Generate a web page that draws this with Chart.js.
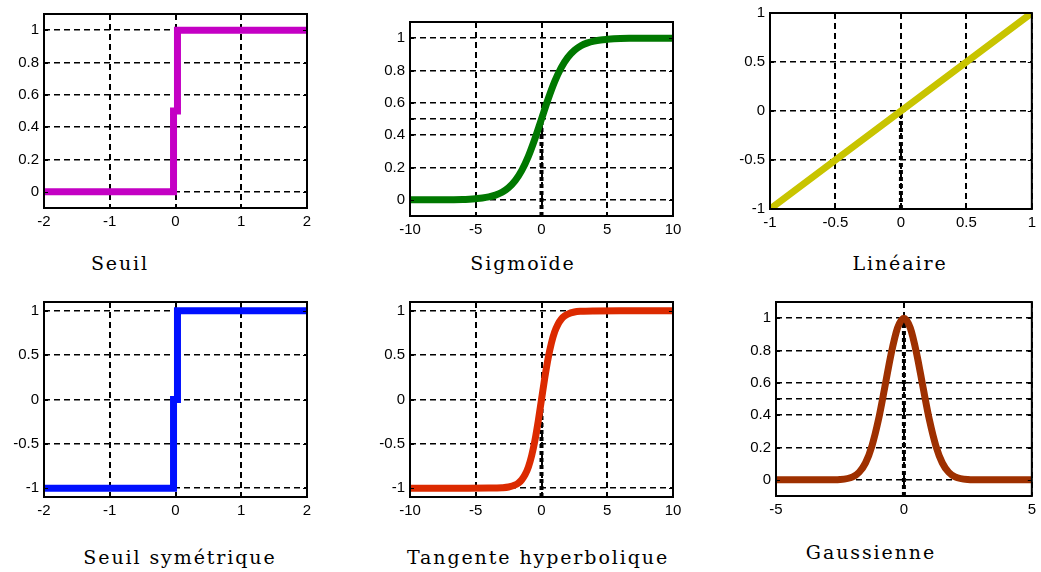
<!DOCTYPE html>
<html>
<head>
<meta charset="utf-8">
<script src="https://cdn.jsdelivr.net/npm/chart.js@4.4.1/dist/chart.umd.min.js"></script>
<style>
  html, body { margin: 0; padding: 0; background: #fff; overflow: hidden; }
  body { width: 1041px; height: 572px; position: relative; }
  canvas { position: absolute; }
  .titre {
    position: absolute; width: 320px; text-align: center;
    font-family: "DejaVu Serif", "Liberation Serif", serif;
    font-size: 19px; letter-spacing: 1.9px; color: #000; line-height: 24px;
  }
</style>
</head>
<body>
<script>
// données
const seuilX = [-2, -0.03, -0.03, 0.03, 0.03, 2];
const seuilY = [0, 0, 0.5, 0.5, 1, 1];

const sigX = [-10, -9, -8, -7, -6, -5.5, -5, -4.5, -4, -3.5, -3, -2.5, -2, -1.5, -1, -0.5, 0,
              0.5, 1, 1.5, 2, 2.5, 3, 3.5, 4, 4.5, 5, 5.5, 6, 7, 8, 9, 10];
const sigY = [0, 0, 0, 0.001, 0.002, 0.004, 0.007, 0.011, 0.018, 0.029, 0.047, 0.076, 0.119, 0.182, 0.269, 0.378, 0.5,
              0.622, 0.731, 0.818, 0.881, 0.924, 0.953, 0.971, 0.982, 0.989, 0.993, 0.996, 0.998, 0.999, 1, 1, 1];

const linX = [-1, -0.5, 0, 0.5, 1];
const linY = [-1, -0.5, 0, 0.5, 1];

const seuilSymX = [-2, -0.03, -0.03, 0.03, 0.03, 2];
const seuilSymY = [-1, -1, 0, 0, 1, 1];

const tanhX = [-10, -8, -6, -4, -3, -2.5, -2, -1.75, -1.5, -1.25, -1, -0.75, -0.5, -0.25, 0,
               0.25, 0.5, 0.75, 1, 1.25, 1.5, 1.75, 2, 2.5, 3, 4, 6, 8, 10];
const tanhY = [-1, -1, -1, -0.999, -0.995, -0.987, -0.964, -0.941, -0.905, -0.848, -0.762, -0.635, -0.462, -0.245, 0,
               0.245, 0.462, 0.635, 0.762, 0.848, 0.905, 0.941, 0.964, 0.987, 0.995, 0.999, 1, 1, 1];

const gaussX = [-5, -4, -3, -2.5, -2, -1.75, -1.5, -1.25, -1, -0.75, -0.5, -0.25, 0,
                0.25, 0.5, 0.75, 1, 1.25, 1.5, 1.75, 2, 2.5, 3, 4, 5];
const gaussY = [0, 0, 0, 0.002, 0.018, 0.047, 0.105, 0.21, 0.368, 0.57, 0.779, 0.939, 1,
                0.939, 0.779, 0.57, 0.368, 0.21, 0.105, 0.047, 0.018, 0.002, 0, 0, 0];

// graduations
const ticksX2 = [-2, -1, 0, 1, 2];
const ticksX10 = [-10, -5, 0, 5, 10];
const ticksX1 = [-1, -0.5, 0, 0.5, 1];
const ticksX5 = [-5, 0, 5];
const ticksY01 = [0, 0.2, 0.4, 0.6, 0.8, 1];
const ticksY01m = [0, 0.2, 0.4, 0.5, 0.6, 0.8, 1];
const ticksY11 = [-1, -0.5, 0, 0.5, 1];

const titres = ['Seuil', 'Sigmoïde', 'Linéaire', 'Seuil symétrique', 'Tangente hyperbolique', 'Gaussienne'];

// cadre noir + petites graduations vers l'intérieur (style matlab)
const cadre = {
  id: 'cadre',
  afterDatasetsDraw(chart) {
    const { ctx, chartArea: a, scales } = chart;
    ctx.save();
    ctx.strokeStyle = '#000';
    ctx.lineWidth = 2;
    ctx.setLineDash([]);
    ctx.strokeRect(a.left, a.top, a.right - a.left, a.bottom - a.top);
    ctx.lineWidth = 1;
    ctx.beginPath();
    scales.x.ticks.forEach(t => {
      const px = Math.round(scales.x.getPixelForValue(t.value)) + 0.5;
      ctx.moveTo(px, a.bottom); ctx.lineTo(px, a.bottom - 4);
      ctx.moveTo(px, a.top); ctx.lineTo(px, a.top + 4);
    });
    scales.y.ticks.forEach(t => {
      const py = Math.round(scales.y.getPixelForValue(t.value)) + 0.5;
      ctx.moveTo(a.left, py); ctx.lineTo(a.left + 4, py);
      ctx.moveTo(a.right, py); ctx.lineTo(a.right - 4, py);
    });
    ctx.stroke();
    ctx.restore();
  }
};

function fmt(v) {
  return String(v);
}

function panneau(p) {
  const padR = Math.min(14, 1041 - p.area.r);
  const cv = document.createElement('canvas');
  const left = p.area.l - 60, top = p.area.t - 12;
  cv.width = p.area.r + padR - left;
  cv.height = p.area.b + 34 - top;
  cv.style.left = left + 'px';
  cv.style.top = top + 'px';
  document.body.appendChild(cv);

  const datasets = [{
    data: p.xs.map((x, i) => ({ x: x, y: p.ys[i] })),
    borderColor: p.color,
    borderWidth: 7,
    pointRadius: 0,
    cubicInterpolationMode: p.smooth ? 'monotone' : 'default',
    tension: 0,
    clip: 0
  }];
  if (p.stem !== undefined) {
    datasets.push({
      data: [{ x: 0, y: p.yMin }, { x: 0, y: p.stem }],
      borderColor: '#000',
      borderWidth: 4,
      borderDash: [4, 3],
      pointRadius: 0,
      clip: 4
    });
  }

  const police = { family: '"Liberation Sans", Arial, sans-serif', size: 15 };

  new Chart(cv, {
    type: 'line',
    data: { datasets: datasets },
    plugins: [cadre],
    options: {
      responsive: false,
      animation: false,
      devicePixelRatio: 1,
      layout: { padding: { left: 10, top: 12, right: padR, bottom: 4 } },
      plugins: { legend: { display: false }, tooltip: { enabled: false } },
      scales: {
        x: {
          type: 'linear', min: p.xMin, max: p.xMax,
          afterBuildTicks: s => { s.ticks = p.xTicks.map(v => ({ value: v })); },
          afterFit: s => { s.height = 30; },
          grid: { color: '#000', lineWidth: 2, drawTicks: false },
          border: { display: false, dash: [6, 4] },
          ticks: {
            autoSkip: false, maxRotation: 0, padding: 5, color: '#000',
            font: police,
            callback: v => fmt(v)
          }
        },
        y: {
          type: 'linear', min: p.yMin, max: p.yMax,
          afterBuildTicks: s => { s.ticks = p.yTicks.map(v => ({ value: v })); },
          afterFit: s => { s.width = 50; },
          grid: { color: '#000', lineWidth: 1.5, drawTicks: false },
          border: { display: false, dash: [6, 4] },
          ticks: {
            autoSkip: false, padding: 5, color: '#000',
            font: police,
            callback: v => (p.hideHalf && v === 0.5) ? '' : fmt(v)
          }
        }
      }
    }
  });

  const t = document.createElement('div');
  t.className = 'titre';
  t.textContent = p.titre;
  t.style.left = (p.titrePos[0] - 160) + 'px';
  t.style.top = (p.titrePos[1] - 12) + 'px';
  document.body.appendChild(t);
}

panneau({ area: { l: 44, t: 12, r: 307, b: 208 }, xs: seuilX, ys: seuilY, color: '#c400c4',
  xMin: -2, xMax: 2, xTicks: ticksX2, yMin: -0.1, yMax: 1.1, yTicks: ticksY01,
  titre: titres[0], titrePos: [120, 263] });

panneau({ area: { l: 410, t: 20, r: 673, b: 216 }, xs: sigX, ys: sigY, color: '#007800', smooth: true,
  xMin: -10, xMax: 10, xTicks: ticksX10, yMin: -0.1, yMax: 1.1, yTicks: ticksY01m, hideHalf: true,
  stem: 0.5, titre: titres[1], titrePos: [523, 263] });

panneau({ area: { l: 770, t: 11, r: 1033, b: 209 }, xs: linX, ys: linY, color: '#c8c400',
  xMin: -1, xMax: 1, xTicks: ticksX1, yMin: -1, yMax: 1, yTicks: ticksY11,
  stem: 0, titre: titres[2], titrePos: [900, 263] });

panneau({ area: { l: 44, t: 300, r: 307, b: 497 }, xs: seuilSymX, ys: seuilSymY, color: '#0010ff',
  xMin: -2, xMax: 2, xTicks: ticksX2, yMin: -1.1, yMax: 1.1, yTicks: ticksY11,
  titre: titres[3], titrePos: [180, 557] });

panneau({ area: { l: 410, t: 300, r: 673, b: 497 }, xs: tanhX, ys: tanhY, color: '#dc2a00', smooth: true,
  xMin: -10, xMax: 10, xTicks: ticksX10, yMin: -1.1, yMax: 1.1, yTicks: ticksY11,
  stem: 0, titre: titres[4], titrePos: [538, 557] });

panneau({ area: { l: 776, t: 300, r: 1037, b: 496 }, xs: gaussX, ys: gaussY, color: '#9e3000', smooth: true,
  xMin: -5, xMax: 5, xTicks: ticksX5, yMin: -0.1, yMax: 1.1, yTicks: ticksY01m, hideHalf: true,
  stem: 1, titre: titres[5], titrePos: [871, 552] });
</script>
</body>
</html>
